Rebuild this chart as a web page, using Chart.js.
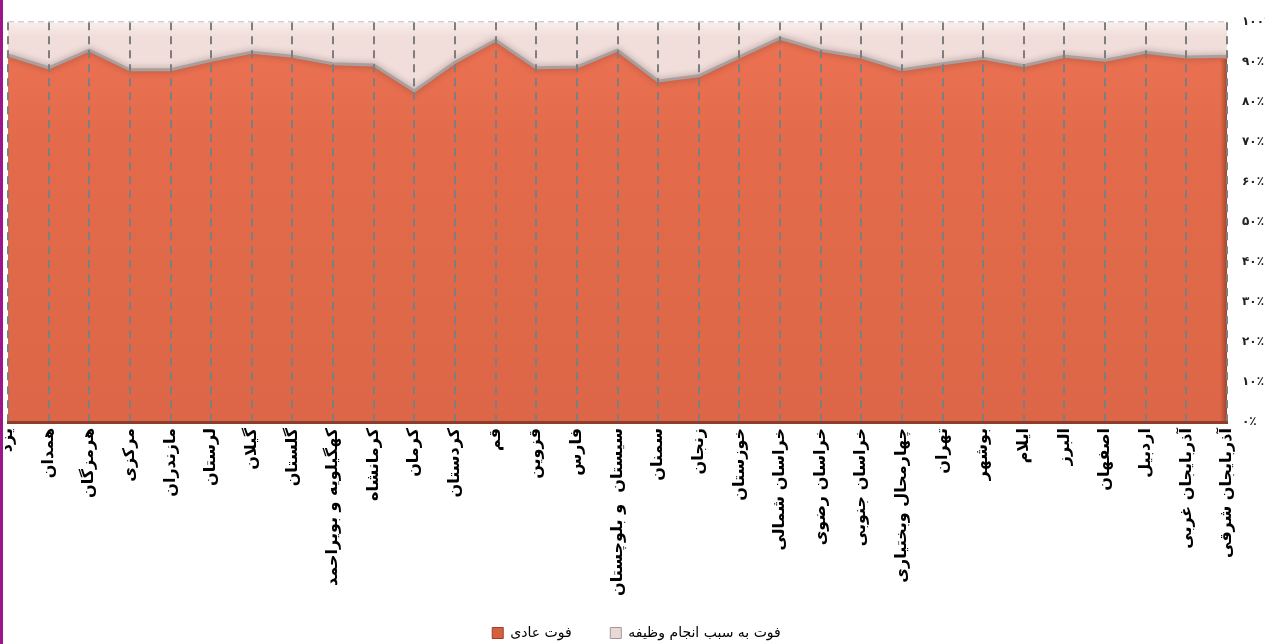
<!DOCTYPE html>
<html lang="fa">
<head>
<meta charset="utf-8">
<script src="https://cdn.jsdelivr.net/npm/chart.js@4.4.1/dist/chart.umd.min.js"></script>
<style>
  html, body { margin: 0; padding: 0; background: #ffffff; overflow: hidden; }
  #wrap { position: relative; width: 1265px; height: 644px; }
  #edge { position: absolute; left: 0; top: 0; width: 3px; height: 644px; background: #9c168a; }
  canvas { display: block; }
</style>
</head>
<body>
<div id="wrap">
  <canvas id="c" width="1265" height="644"></canvas>
  <div id="edge"></div>
</div>
<script>
// ---- data ----
const provinces = [
  'یزد', 'همدان', 'هرمزگان', 'مرکزی', 'مازندران', 'لرستان', 'گیلان', 'گلستان',
  'کهگیلویه و بویراحمد', 'کرمانشاه', 'کرمان', 'کردستان', 'قم', 'قزوین', 'فارس',
  'سیستان  و بلوچستان', 'سمنان', 'زنجان', 'خوزستان', 'خراسان شمالی', 'خراسان رضوی',
  'خراسان جنوبی', 'چهارمحال وبختیاری', 'تهران', 'بوشهر', 'ایلام', 'البرز',
  'اصفهان', 'اردبیل', 'آذربایجان غربی', 'آذربایجان شرقی'
];
const normalDeath = [
  91.8, 88.6, 93.0, 88.1, 88.1, 90.5, 92.5, 91.5, 89.6, 89.3, 82.8,
  90.0, 95.5, 88.6, 88.8, 93.0, 85.3, 86.6, 91.3, 96.0, 93.0,
  91.3, 88.1, 89.6, 91.0, 89.1, 91.5, 90.5, 92.5, 91.3, 91.5
];
const dutyDeath = [
  8.2, 11.4, 7.0, 11.9, 11.9, 9.5, 7.5, 8.5, 10.4, 10.7, 17.2,
  10.0, 4.5, 11.4, 11.2, 7.0, 14.7, 13.4, 8.7, 4.0, 7.0,
  8.7, 11.9, 10.4, 9.0, 10.9, 8.5, 9.5, 7.5, 8.7, 8.5
];
const seriesNames = ['فوت عادی', 'فوت به سبب انجام وظیفه'];
const yTicks = [0, 10, 20, 30, 40, 50, 60, 70, 80, 90, 100];

const faDigits = '۰۱۲۳۴۵۶۷۸۹';
const toFa = v => String(v).replace(/\d/g, d => faDigits[d]) + '٪';

const PLOT_BOTTOM = 422;

function orangeFill(ctx) {
  const ca = ctx.chart.chartArea;
  if (!ca) return '#E06A4A';
  const g = ctx.chart.ctx.createLinearGradient(0, ca.top, 0, ca.bottom);
  g.addColorStop(0, '#EC7253');
  g.addColorStop(0.3, '#E36B4B');
  g.addColorStop(1, '#DC6647');
  return g;
}
function pinkFill(ctx) {
  const ca = ctx.chart.chartArea;
  if (!ca) return '#F2DFDC';
  const g = ctx.chart.ctx.createLinearGradient(0, ca.top, 0, ca.top + 14);
  g.addColorStop(0, '#F9EEEC');
  g.addColorStop(1, '#F1DEDB');
  return g;
}

const decoPlugin = {
  id: 'deco',
  beforeDatasetDraw(chart, args) {
    if (args.index === 0) {
      const c = chart.ctx;
      c.save();
      c.shadowColor = 'rgba(60,40,40,0.45)';
      c.shadowBlur = 6;
      c.shadowOffsetY = 0;
    }
  },
  afterDatasetDraw(chart, args) {
    if (args.index === 0) chart.ctx.restore();
  },
  afterDatasetsDraw(chart) {
    // darker 3D side on the right edge of the orange area
    const ca = chart.chartArea;
    const meta = chart.getDatasetMeta(0);
    const last = meta.data[meta.data.length - 1];
    if (!last) return;
    const c = chart.ctx;
    c.save();
    const g = c.createLinearGradient(ca.right - 7, 0, ca.right, 0);
    g.addColorStop(0, 'rgba(120,40,20,0)');
    g.addColorStop(1, 'rgba(110,35,18,0.55)');
    c.fillStyle = g;
    c.fillRect(ca.right - 7, last.y + 3, 7, ca.bottom - last.y - 3);
    c.restore();
  },
  afterLayout(chart) {
    const lg = chart.legend;
    if (lg) { lg.top += 6; lg.bottom += 6; }
  }
};

new Chart(document.getElementById('c'), {
  type: 'line',
  data: {
    labels: provinces,
    datasets: [
      {
        label: seriesNames[0],
        data: normalDeath,
        fill: 'origin',
        backgroundColor: orangeFill,
        borderColor: '#A9A09E',
        borderWidth: 3,
        pointRadius: 0,
        tension: 0
      },
      {
        label: seriesNames[1],
        data: dutyDeath,
        fill: '-1',
        backgroundColor: pinkFill,
        borderColor: 'rgba(0,0,0,0)',
        borderWidth: 0,
        pointRadius: 0,
        tension: 0
      }
    ]
  },
  plugins: [decoPlugin],
  options: {
    responsive: false,
    animation: false,
    events: [],
    layout: { padding: { left: 8, top: 14, right: 0, bottom: 0 } },
    plugins: {
      tooltip: { enabled: false },
      legend: {
        position: 'bottom',
        labels: {
          boxWidth: 11,
          boxHeight: 11,
          padding: 12,
          color: '#1a1a1a',
          font: { family: 'DejaVu Sans', size: 14 },
          generateLabels(chart) {
            return [
              { text: seriesNames[0] + '      ', fillStyle: '#D5603F', strokeStyle: '#9A4027', lineWidth: 1, datasetIndex: 0 },
              { text: seriesNames[1], fillStyle: '#EAD8D6', strokeStyle: '#A09898', lineWidth: 1, datasetIndex: 1 }
            ];
          }
        }
      }
    },
    scales: {
      x: {
        z: 1,
        offset: false,
        grid: {
          display: true,
          z: 1,
          color: '#7E7E7E',
          lineWidth: 2,
          drawTicks: false,
          offset: false
        },
        border: { display: true, z: 1, color: '#8E3D28', width: 3, dash: [8, 6] },
        ticks: {
          autoSkip: false,
          minRotation: 90,
          maxRotation: 90,
          padding: 6,
          color: '#000000',
          font: { family: 'DejaVu Sans', size: 16, weight: 'bold' }
        },
        afterFit(scale) {
          const lh = scale.chart.legend ? scale.chart.legend.height : 40;
          scale.height = 644 - PLOT_BOTTOM - lh;
        }
      },
      y: {
        z: 1,
        position: 'right',
        stacked: true,
        min: 0,
        max: 100,
        afterBuildTicks(scale) {
          scale.ticks = yTicks.map(v => ({ value: v }));
        },
        grid: {
          z: 1,
          drawTicks: false,
          lineWidth: 1.5,
          color: c => (c.tick && c.tick.value === 100) ? '#CFCFCF' : 'rgba(0,0,0,0)'
        },
        border: { display: false, dash: [6, 4] },
        ticks: {
          padding: 15,
          color: '#222222',
          font: { family: 'DejaVu Sans', size: 12, weight: 'bold' },
          callback: v => toFa(v)
        },
        afterFit(scale) { scale.width = 38; }
      }
    }
  }
});
</script>
</body>
</html>
